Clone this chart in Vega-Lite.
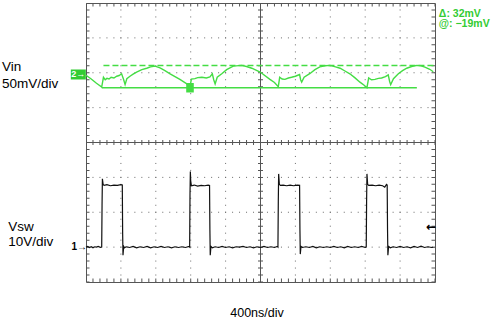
{
  "$schema": "https://vega.github.io/schema/vega-lite/v6.json",
  "width": 349,
  "height": 279,
  "autosize": {"type": "none"},
  "padding": {"left": 86, "top": 3, "right": 65, "bottom": 39},
  "background": "white",
  "config": {
    "view": {"stroke": "#555555", "strokeWidth": 1},
    "font": "Liberation Sans"
  },
  "datasets": {
    "vin": [
      {"t": 0, "v": 5.93}, {"t": 0.15, "v": 5.82}, {"t": 0.3, "v": 5.7}, {"t": 0.45, "v": 5.59},
      {"t": 0.5, "v": 5.87}, {"t": 0.55, "v": 5.8}, {"t": 0.6, "v": 5.84}, {"t": 0.66, "v": 5.82},
      {"t": 0.72, "v": 5.87}, {"t": 0.8, "v": 5.85}, {"t": 0.88, "v": 5.9}, {"t": 0.95, "v": 5.92},
      {"t": 1.02, "v": 5.97}, {"t": 1.08, "v": 5.8}, {"t": 1.12, "v": 5.66}, {"t": 1.17, "v": 5.83},
      {"t": 1.26, "v": 5.9}, {"t": 1.35, "v": 5.96}, {"t": 1.45, "v": 6.02}, {"t": 1.6, "v": 6.09},
      {"t": 1.74, "v": 6.13}, {"t": 1.85, "v": 6.17}, {"t": 1.98, "v": 6.19}, {"t": 2.12, "v": 6.14},
      {"t": 2.25, "v": 6.07}, {"t": 2.41, "v": 5.97}, {"t": 2.55, "v": 5.89}, {"t": 2.69, "v": 5.81},
      {"t": 2.89, "v": 5.68}, {"t": 2.98, "v": 5.6}, {"t": 3.02, "v": 5.82}, {"t": 3.12, "v": 5.83},
      {"t": 3.2, "v": 5.86}, {"t": 3.32, "v": 5.87}, {"t": 3.45, "v": 5.85}, {"t": 3.55, "v": 5.88},
      {"t": 3.62, "v": 5.97}, {"t": 3.66, "v": 5.8}, {"t": 3.7, "v": 5.68}, {"t": 3.76, "v": 5.87},
      {"t": 3.89, "v": 5.97}, {"t": 4.03, "v": 6.09}, {"t": 4.22, "v": 6.19}, {"t": 4.46, "v": 6.21},
      {"t": 4.6, "v": 6.18}, {"t": 4.75, "v": 6.13}, {"t": 4.99, "v": 6.02}, {"t": 5.27, "v": 5.81},
      {"t": 5.4, "v": 5.72}, {"t": 5.51, "v": 5.6}, {"t": 5.55, "v": 5.87}, {"t": 5.62, "v": 5.82},
      {"t": 5.7, "v": 5.81}, {"t": 5.8, "v": 5.85}, {"t": 5.89, "v": 5.87}, {"t": 6.0, "v": 5.9},
      {"t": 6.12, "v": 5.95}, {"t": 6.15, "v": 5.8}, {"t": 6.18, "v": 5.73}, {"t": 6.25, "v": 5.87},
      {"t": 6.42, "v": 5.98}, {"t": 6.56, "v": 6.09}, {"t": 6.7, "v": 6.17}, {"t": 6.85, "v": 6.2},
      {"t": 6.99, "v": 6.21}, {"t": 7.15, "v": 6.17}, {"t": 7.28, "v": 6.13}, {"t": 7.42, "v": 6.05},
      {"t": 7.56, "v": 5.97}, {"t": 7.7, "v": 5.86}, {"t": 7.85, "v": 5.73}, {"t": 7.97, "v": 5.64},
      {"t": 8.05, "v": 5.57}, {"t": 8.1, "v": 5.85}, {"t": 8.18, "v": 5.8}, {"t": 8.28, "v": 5.81},
      {"t": 8.38, "v": 5.84}, {"t": 8.47, "v": 5.85}, {"t": 8.58, "v": 5.89}, {"t": 8.66, "v": 5.94},
      {"t": 8.7, "v": 5.75}, {"t": 8.73, "v": 5.66}, {"t": 8.81, "v": 5.83}, {"t": 8.95, "v": 5.97},
      {"t": 9.07, "v": 6.06}, {"t": 9.19, "v": 6.13}, {"t": 9.33, "v": 6.18}, {"t": 9.48, "v": 6.21},
      {"t": 9.6, "v": 6.2}, {"t": 9.71, "v": 6.16}, {"t": 9.85, "v": 6.1}, {"t": 9.95, "v": 6.03}
    ],
    "vsw": [
      {"t": 0, "v": 1.0}, {"t": 0.05, "v": 1.02}, {"t": 0.1, "v": 0.99}, {"t": 0.15, "v": 1.01},
      {"t": 0.2, "v": 0.98}, {"t": 0.25, "v": 1.01}, {"t": 0.3, "v": 1.0}, {"t": 0.35, "v": 1.02},
      {"t": 0.42, "v": 0.99}, {"t": 0.45, "v": 1.0}, {"t": 0.46, "v": 2.2}, {"t": 0.47, "v": 2.96},
      {"t": 0.49, "v": 2.8}, {"t": 0.52, "v": 2.77}, {"t": 0.6, "v": 2.79}, {"t": 0.7, "v": 2.76},
      {"t": 0.8, "v": 2.78}, {"t": 0.9, "v": 2.77}, {"t": 1.0, "v": 2.79}, {"t": 1.04, "v": 2.78},
      {"t": 1.05, "v": 1.4}, {"t": 1.06, "v": 0.77}, {"t": 1.08, "v": 1.02}, {"t": 1.1, "v": 0.98},
      {"t": 1.15, "v": 1.01}, {"t": 1.25, "v": 0.99}, {"t": 1.35, "v": 1.02}, {"t": 1.45, "v": 0.98},
      {"t": 1.55, "v": 1.01}, {"t": 1.65, "v": 0.99}, {"t": 1.75, "v": 1.02}, {"t": 1.85, "v": 0.98},
      {"t": 1.95, "v": 1.01}, {"t": 2.05, "v": 0.99}, {"t": 2.15, "v": 1.02}, {"t": 2.25, "v": 0.99},
      {"t": 2.35, "v": 1.01}, {"t": 2.45, "v": 0.98}, {"t": 2.55, "v": 1.01}, {"t": 2.65, "v": 0.99},
      {"t": 2.75, "v": 1.01}, {"t": 2.85, "v": 0.99}, {"t": 2.95, "v": 1.02}, {"t": 2.97, "v": 1.0},
      {"t": 2.98, "v": 2.5}, {"t": 2.99, "v": 3.17}, {"t": 3.0, "v": 2.9}, {"t": 3.02, "v": 2.76},
      {"t": 3.1, "v": 2.78}, {"t": 3.2, "v": 2.75}, {"t": 3.3, "v": 2.77}, {"t": 3.4, "v": 2.76},
      {"t": 3.5, "v": 2.78}, {"t": 3.54, "v": 2.77}, {"t": 3.55, "v": 1.5}, {"t": 3.56, "v": 0.77},
      {"t": 3.58, "v": 1.02}, {"t": 3.62, "v": 0.98}, {"t": 3.7, "v": 1.01}, {"t": 3.8, "v": 0.99},
      {"t": 3.9, "v": 1.02}, {"t": 4.0, "v": 0.99}, {"t": 4.1, "v": 1.01}, {"t": 4.2, "v": 0.98},
      {"t": 4.3, "v": 1.01}, {"t": 4.4, "v": 1.0}, {"t": 4.5, "v": 1.02}, {"t": 4.6, "v": 0.99},
      {"t": 4.7, "v": 1.01}, {"t": 4.8, "v": 0.98}, {"t": 4.9, "v": 1.01}, {"t": 5.0, "v": 0.99},
      {"t": 5.1, "v": 1.02}, {"t": 5.2, "v": 0.99}, {"t": 5.3, "v": 1.01}, {"t": 5.4, "v": 0.99},
      {"t": 5.48, "v": 1.02}, {"t": 5.5, "v": 1.0}, {"t": 5.51, "v": 2.3}, {"t": 5.52, "v": 3.1},
      {"t": 5.54, "v": 2.8}, {"t": 5.57, "v": 2.77}, {"t": 5.65, "v": 2.78}, {"t": 5.75, "v": 2.76},
      {"t": 5.85, "v": 2.78}, {"t": 5.95, "v": 2.76}, {"t": 6.05, "v": 2.78}, {"t": 6.12, "v": 2.77},
      {"t": 6.13, "v": 1.5}, {"t": 6.14, "v": 0.8}, {"t": 6.16, "v": 1.02}, {"t": 6.2, "v": 0.99},
      {"t": 6.3, "v": 1.01}, {"t": 6.4, "v": 0.99}, {"t": 6.5, "v": 1.02}, {"t": 6.6, "v": 0.98},
      {"t": 6.7, "v": 1.01}, {"t": 6.8, "v": 0.99}, {"t": 6.9, "v": 1.01}, {"t": 7.0, "v": 0.99},
      {"t": 7.1, "v": 1.02}, {"t": 7.2, "v": 0.99}, {"t": 7.3, "v": 1.01}, {"t": 7.4, "v": 0.98},
      {"t": 7.5, "v": 1.02}, {"t": 7.6, "v": 0.99}, {"t": 7.7, "v": 1.01}, {"t": 7.8, "v": 0.99},
      {"t": 7.9, "v": 1.02}, {"t": 8.0, "v": 0.99}, {"t": 8.03, "v": 1.0}, {"t": 8.04, "v": 2.3},
      {"t": 8.05, "v": 3.1}, {"t": 8.07, "v": 2.8}, {"t": 8.1, "v": 2.77}, {"t": 8.2, "v": 2.78},
      {"t": 8.3, "v": 2.76}, {"t": 8.4, "v": 2.78}, {"t": 8.5, "v": 2.76}, {"t": 8.56, "v": 2.72},
      {"t": 8.61, "v": 2.8}, {"t": 8.63, "v": 2.78}, {"t": 8.64, "v": 1.5}, {"t": 8.65, "v": 0.77},
      {"t": 8.67, "v": 1.02}, {"t": 8.72, "v": 0.98}, {"t": 8.8, "v": 1.01}, {"t": 8.9, "v": 0.99},
      {"t": 9.0, "v": 1.02}, {"t": 9.1, "v": 0.99}, {"t": 9.2, "v": 1.01}, {"t": 9.3, "v": 0.98},
      {"t": 9.4, "v": 1.02}, {"t": 9.5, "v": 0.99}, {"t": 9.6, "v": 1.03}, {"t": 9.7, "v": 0.99},
      {"t": 9.8, "v": 1.01}, {"t": 9.9, "v": 0.99}, {"t": 9.95, "v": 1.0}
    ]
  },
  "encoding": {
    "x": {"type": "quantitative", "scale": {"domain": [0, 10], "nice": false, "zero": false}, "axis": null},
    "y": {"type": "quantitative", "scale": {"domain": [0, 8], "nice": false, "zero": false}, "axis": null}
  },
  "layer": [
    {
      "data": {"values": [{"t": 1}, {"t": 2}, {"t": 3}, {"t": 4}, {"t": 6}, {"t": 7}, {"t": 8}, {"t": 9}]},
      "mark": {"type": "rule", "color": "#6a6a6a", "strokeWidth": 1, "strokeDash": [1, 5.975], "strokeDashOffset": 0.5},
      "encoding": {"x": {"field": "t", "type": "quantitative"}}
    },
    {
      "data": {"values": [{"v": 1}, {"v": 2}, {"v": 3}, {"v": 5}, {"v": 6}, {"v": 7}]},
      "mark": {"type": "rule", "color": "#6a6a6a", "strokeWidth": 1, "strokeDash": [1, 5.98], "strokeDashOffset": 0.5},
      "encoding": {"y": {"field": "v", "type": "quantitative"}}
    },
    {
      "data": {"values": [{"t": 0}, {"t": 10}]},
      "mark": {"type": "rule", "color": "#555555", "strokeWidth": 7, "strokeDash": [1, 5.975], "strokeDashOffset": 0.5, "clip": true},
      "encoding": {"x": {"field": "t", "type": "quantitative"}}
    },
    {
      "data": {"values": [{"v": 0}, {"v": 8}]},
      "mark": {"type": "rule", "color": "#555555", "strokeWidth": 7, "strokeDash": [1, 5.98], "strokeDashOffset": 0.5, "clip": true},
      "encoding": {"y": {"field": "v", "type": "quantitative"}}
    },
    {
      "data": {"values": [{"t": 5}]},
      "mark": {"type": "rule", "color": "#555555", "strokeWidth": 1},
      "encoding": {"x": {"field": "t", "type": "quantitative"}}
    },
    {
      "data": {"values": [{"t": 5}]},
      "mark": {"type": "rule", "color": "#555555", "strokeWidth": 5, "strokeDash": [1, 5.975], "strokeDashOffset": 0.5},
      "encoding": {"x": {"field": "t", "type": "quantitative"}}
    },
    {
      "data": {"values": [{"v": 4}]},
      "mark": {"type": "rule", "color": "#555555", "strokeWidth": 1},
      "encoding": {"y": {"field": "v", "type": "quantitative"}}
    },
    {
      "data": {"values": [{"v": 4}]},
      "mark": {"type": "rule", "color": "#555555", "strokeWidth": 5, "strokeDash": [1, 5.98], "strokeDashOffset": 0.5},
      "encoding": {"y": {"field": "v", "type": "quantitative"}}
    },
    {
      "data": {"values": [{"t": 0.5, "t2": 10, "v": 6.21}]},
      "mark": {"type": "rule", "color": "#44dd44", "strokeWidth": 1.5, "strokeDash": [6, 3]},
      "encoding": {
        "x": {"field": "t", "type": "quantitative"},
        "x2": {"field": "t2"},
        "y": {"field": "v", "type": "quantitative"}
      }
    },
    {
      "data": {"values": [{"t": 0.45, "t2": 9.48, "v": 5.57}]},
      "mark": {"type": "rule", "color": "#44dd44", "strokeWidth": 1.3},
      "encoding": {
        "x": {"field": "t", "type": "quantitative"},
        "x2": {"field": "t2"},
        "y": {"field": "v", "type": "quantitative"}
      }
    },
    {
      "data": {"name": "vin"},
      "mark": {"type": "line", "color": "#44dd44", "strokeWidth": 1.4},
      "encoding": {
        "x": {"field": "t", "type": "quantitative"},
        "y": {"field": "v", "type": "quantitative"}
      }
    },
    {
      "data": {"name": "vsw"},
      "mark": {"type": "line", "color": "#111111", "strokeWidth": 1.2},
      "encoding": {
        "x": {"field": "t", "type": "quantitative"},
        "y": {"field": "v", "type": "quantitative"}
      }
    },
    {
      "data": {"values": [{"t": 2.98, "v": 5.57}]},
      "mark": {"type": "point", "shape": "M-0.8,-1L0.8,-1L0.8,1L-0.8,1Z", "size": 90, "filled": true, "color": "#44dd44", "opacity": 1},
      "encoding": {
        "x": {"field": "t", "type": "quantitative"},
        "y": {"field": "v", "type": "quantitative"}
      }
    },
    {
      "data": {"values": [{"t": -0.22, "v": 5.95}]},
      "mark": {"type": "point", "shape": "M-1.5,-1L1.5,-1L1.5,1L-1.5,1Z", "size": 100, "filled": true, "color": "#33cc33", "opacity": 1},
      "encoding": {
        "x": {"field": "t", "type": "quantitative"},
        "y": {"field": "v", "type": "quantitative"}
      }
    },
    {
      "data": {"values": [{"t": -0.22, "v": 5.95, "label": "2→"}]},
      "mark": {"type": "text", "color": "white", "fontSize": 9, "fontWeight": "bold", "align": "center", "baseline": "middle"},
      "encoding": {
        "x": {"field": "t", "type": "quantitative"},
        "y": {"field": "v", "type": "quantitative"},
        "text": {"field": "label"}
      }
    },
    {
      "data": {"values": [{"t": 0, "v": 1.0, "label": "1→"}]},
      "mark": {"type": "text", "color": "black", "fontSize": 10, "fontWeight": "bold", "align": "right", "baseline": "middle", "dx": 1},
      "encoding": {
        "x": {"field": "t", "type": "quantitative"},
        "y": {"field": "v", "type": "quantitative"},
        "text": {"field": "label"}
      }
    },
    {
      "data": {"values": [{"t": 9.89, "v": 1.57, "label": "←"}]},
      "mark": {"type": "text", "color": "black", "fontSize": 12, "fontWeight": "bold", "font": "DejaVu Sans", "align": "center", "baseline": "middle"},
      "encoding": {
        "x": {"field": "t", "type": "quantitative"},
        "y": {"field": "v", "type": "quantitative"},
        "text": {"field": "label"}
      }
    },
    {
      "data": {"values": [
        {"t": -2.41, "v": 6.05, "label": "Vin"},
        {"t": -2.41, "v": 5.57, "label": "50mV/div"},
        {"t": -2.23, "v": 1.45, "label": "Vsw"},
        {"t": -2.23, "v": 1.02, "label": "10V/div"}
      ]},
      "mark": {"type": "text", "color": "black", "fontSize": 13.5, "align": "left", "baseline": "alphabetic"},
      "encoding": {
        "x": {"field": "t", "type": "quantitative"},
        "y": {"field": "v", "type": "quantitative"},
        "text": {"field": "label"}
      }
    },
    {
      "data": {"values": [{"t": 4.9, "v": -1.01, "label": "400ns/div"}]},
      "mark": {"type": "text", "color": "black", "fontSize": 12.5, "align": "center", "baseline": "alphabetic"},
      "encoding": {
        "x": {"field": "t", "type": "quantitative"},
        "y": {"field": "v", "type": "quantitative"},
        "text": {"field": "label"}
      }
    },
    {
      "data": {"values": [
        {"t": 10.11, "v": 7.61, "label": "Δ: 32mV"},
        {"t": 10.11, "v": 7.3, "label": "@: −19mV"}
      ]},
      "mark": {"type": "text", "color": "#33cc33", "fontSize": 10.5, "fontWeight": "bold", "align": "left", "baseline": "alphabetic"},
      "encoding": {
        "x": {"field": "t", "type": "quantitative"},
        "y": {"field": "v", "type": "quantitative"},
        "text": {"field": "label"}
      }
    }
  ]
}
